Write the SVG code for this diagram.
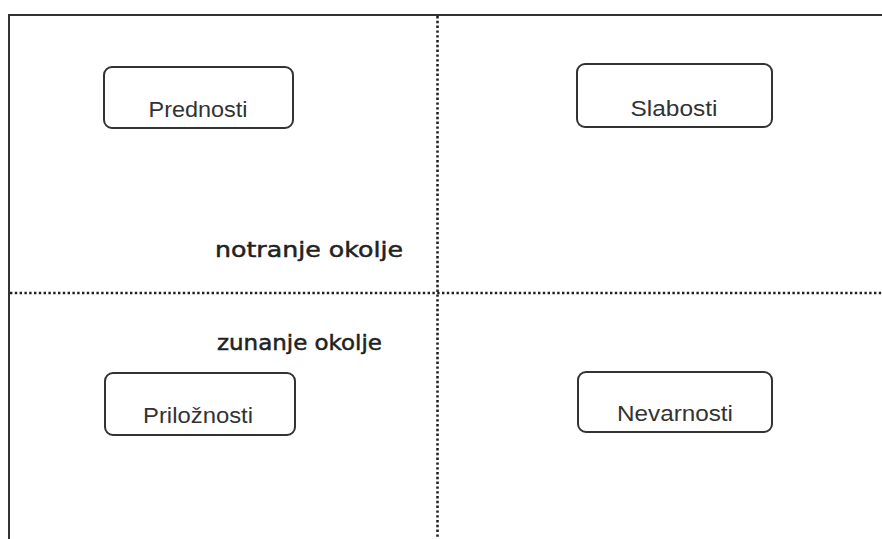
<svg xmlns="http://www.w3.org/2000/svg" width="882" height="539" viewBox="0 0 882 539">
<style>
.frame{fill:none;stroke:#333;stroke-width:2}
.dot{fill:none;stroke:#222;stroke-width:2.6;stroke-dasharray:2.4 2.4}
.box{fill:#fff;stroke:#333;stroke-width:2}
.lbl{font-family:"Liberation Sans",Arial,sans-serif;font-size:22px;fill:#333;text-anchor:middle}
.hand{font-family:"DejaVu Sans",sans-serif;fill:#222;stroke:#222;stroke-width:0.5}
</style>
<rect width="882" height="539" fill="#fff"/>
<g id="connectors">
<path class="frame" d="M9 539 V15 H882"/>
<path class="dot" d="M437.5 16 V539"/>
<path class="dot" d="M10 293 H882"/>
</g>
<g id="prednosti"><rect class="box" x="104" y="67" width="189" height="61" rx="8"/><text class="lbl" x="198" y="117" textLength="99" lengthAdjust="spacingAndGlyphs">Prednosti</text></g>
<g id="slabosti"><rect class="box" x="577" y="64" width="195" height="63" rx="8"/><text class="lbl" x="674" y="116" textLength="87" lengthAdjust="spacingAndGlyphs">Slabosti</text></g>
<g id="priloznosti"><rect class="box" x="105" y="373" width="190" height="62" rx="8"/><text class="lbl" x="198" y="423" textLength="110" lengthAdjust="spacingAndGlyphs">Priložnosti</text></g>
<g id="nevarnosti"><rect class="box" x="578" y="372" width="194" height="60" rx="8"/><text class="lbl" x="675" y="421" textLength="116" lengthAdjust="spacingAndGlyphs">Nevarnosti</text></g>
<g id="notranje"><text class="hand" x="215" y="257" font-size="22" textLength="188" lengthAdjust="spacingAndGlyphs">notranje okolje</text></g>
<g id="zunanje"><text class="hand" x="217" y="350" font-size="21" textLength="165" lengthAdjust="spacingAndGlyphs">zunanje okolje</text></g>
</svg>
